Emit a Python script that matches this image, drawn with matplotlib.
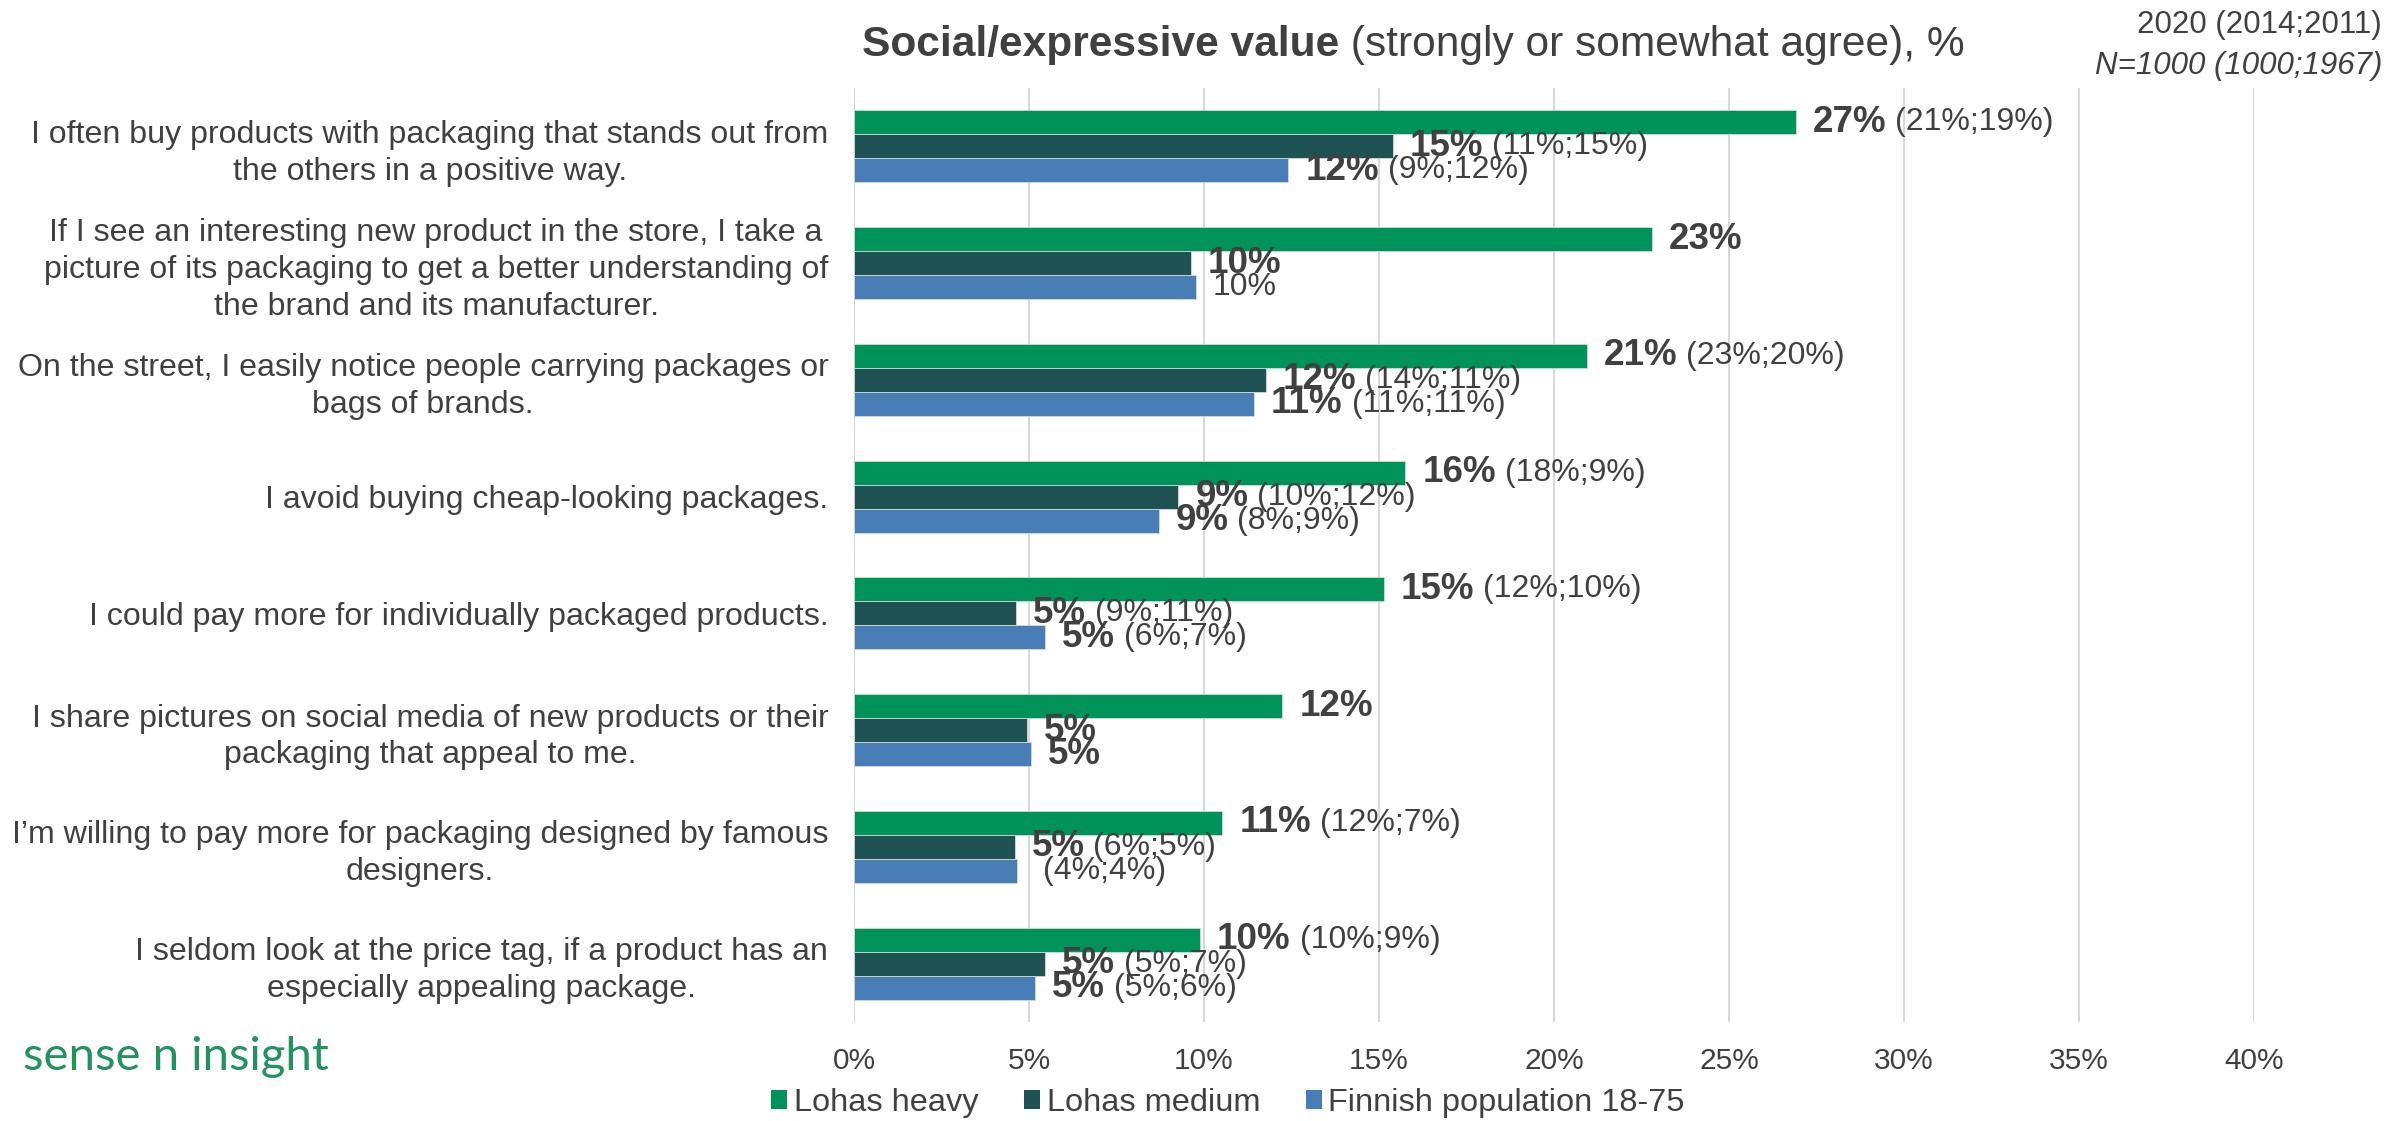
import matplotlib
matplotlib.use("Agg")
import matplotlib.pyplot as plt
from matplotlib.patches import Patch
import numpy as np

plt.rcParams['font.family'] = ['Liberation Sans', 'DejaVu Sans']

W, H = 2392, 1121
TEXT = '#404040'

statements = [
    "I often buy products with packaging that stands out from\nthe others in a positive way.",
    "If I see an interesting new product in the store, I take a\npicture of its packaging to get a better understanding of\nthe brand and its manufacturer.",
    "On the street, I easily notice people carrying packages or\nbags of brands.",
    "I avoid buying cheap-looking packages.",
    "I could pay more for individually packaged products.",
    "I share pictures on social media of new products or their\npackaging that appeal to me.",
    "I\u2019m willing to pay more for packaging designed by famous\ndesigners.",
    "I seldom look at the price tag, if a product has an\nespecially appealing package.",
]

series_names = ["Lohas heavy", "Lohas medium", "Finnish population 18-75"]
series_colors = ['#00925B', '#1F5253', '#497DB5']

# 2020 shares, %
lohas_heavy = [26.9, 22.8, 20.94, 15.75, 15.14, 12.24, 10.52, 9.89]
lohas_medium = [15.39, 9.63, 11.76, 9.27, 4.63, 4.94, 4.59, 5.45]
finnish_pop = [12.41, 9.76, 11.43, 8.7, 5.46, 5.05, 4.67, 5.17]

# earlier survey rounds (2014;2011)
heavy_prev = ["21%;19%", "", "23%;20%", "18%;9%", "12%;10%", "", "12%;7%", "10%;9%"]
medium_prev = ["11%;15%", "", "14%;11%", "10%;12%", "9%;11%", "", "6%;5%", "5%;7%"]
pop_prev = ["9%;12%", "", "11%;11%", "8%;9%", "6%;7%", "", "4%;4%", "5%;6%"]

# how the 2020 value is written next to each bar
heavy_style = ["bold"] * 8
medium_style = ["bold"] * 8
pop_style = ["bold", "plain", "bold", "bold", "bold", "bold", "none", "bold"]

x_ticks = [0, 5, 10, 15, 20, 25, 30, 35, 40]

fig = plt.figure(figsize=(W / 100, H / 100), dpi=100)
ax = fig.add_axes([854 / W, 1 - 1022 / H, (2254 - 854) / W, (1022 - 88) / H])

n = len(statements)
y = np.arange(n)
bar_h = 0.2056
offsets = [-bar_h, 0.0, bar_h]
all_values = [lohas_heavy, lohas_medium, finnish_pop]
all_prev = [heavy_prev, medium_prev, pop_prev]
all_style = [heavy_style, medium_style, pop_style]

for vals, off, col in zip(all_values, offsets, series_colors):
    ax.barh(y + off, vals, height=bar_h, color=col, edgecolor='#cfdcd6',
            linewidth=0.6, zorder=3)


def label_bar(xv, yv, value, prev, style):
    kw = dict(color=TEXT, va='center', ha='left', textcoords='offset points',
              zorder=5)
    if style == 'none':
        if prev:
            ax.annotate(f"({prev})", xy=(xv, yv), xytext=(18.5, 0),
                        fontsize=23, **kw)
        return
    bold = style == 'bold'
    anchor = ax.annotate(f"{int(value + 0.5)}%", xy=(xv, yv), xytext=(12.2, 0),
                         fontsize=26.5 if bold else 23,
                         fontweight='bold' if bold else 'normal', **kw)
    if prev:
        ax.annotate(f"({prev})", xy=(1, 0.5), xycoords=anchor, xytext=(6.4, 0),
                    fontsize=23, **kw)


for vals, off, prevs, styles in zip(all_values, offsets, all_prev, all_style):
    for i in range(n):
        label_bar(vals[i], y[i] + off, vals[i], prevs[i], styles[i])

ax.set_xlim(0, 40)
ax.set_ylim(n - 0.5, -0.5)
ax.set_xticks(x_ticks)
ax.set_xticklabels([f"{t}%" for t in x_ticks], fontsize=21.5, color=TEXT)
ax.set_yticks(y)
ax.set_yticklabels(statements, fontsize=23.1, color=TEXT, ha='right',
                   multialignment='center', linespacing=1.29)
ax.tick_params(axis='both', length=0)
ax.tick_params(axis='x', pad=18)
ax.tick_params(axis='y', pad=18.5)
ax.grid(axis='x', color='#D9D9D9', linewidth=1.5, zorder=0)
ax.grid(axis='y', visible=False)
ax.set_axisbelow(True)
for s in ax.spines.values():
    s.set_visible(False)

# title: bold lead followed by regular text
t1 = fig.text(862 / W, 1 - 56 / H, "Social/expressive value", fontsize=30.6,
              fontweight='bold', color=TEXT, va='baseline', ha='left')
ax.annotate(" (strongly or somewhat agree), %", xy=(1, 0), xycoords=t1,
            fontsize=30.6, color=TEXT, va='bottom', ha='left',
            annotation_clip=False)

fig.text(2382 / W, 1 - 25 / H, "2020 (2014;2011)", fontsize=22.5,
         color=TEXT, ha='right', va='center')
fig.text(2382 / W, 1 - 66 / H, "N=1000 (1000;1967)", fontsize=22.5,
         color=TEXT, ha='right', va='center', style='italic')

fig.text(23 / W, 1 - 1057 / H, "sense n insight", fontsize=34,
         family=['Lato', 'DejaVu Sans'], color='#23925f', ha='left',
         va='center')

handles = [Patch(facecolor=c, label=nm) for c, nm in zip(series_colors, series_names)]
fig.legend(handles=handles, loc='center', bbox_to_anchor=(0.5134, 0.016),
           ncol=3, frameon=False, fontsize=23.4, handlelength=0.5,
           handleheight=0.5, handletextpad=0.2, columnspacing=1.4,
           borderpad=0, labelcolor=TEXT)

fig.savefig("out.png", dpi=100)
